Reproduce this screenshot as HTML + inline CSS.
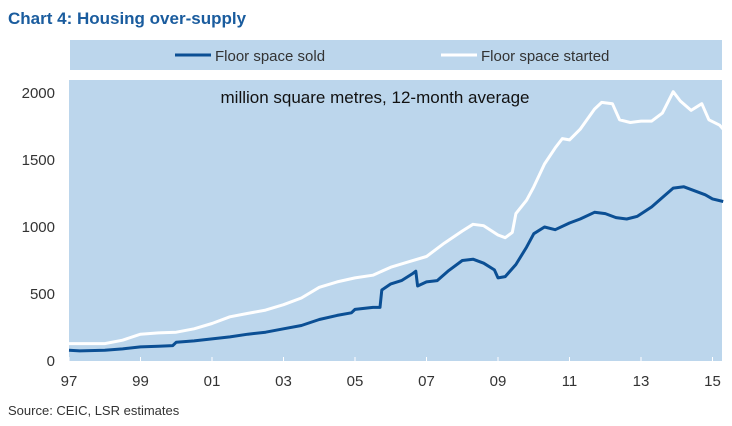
<!DOCTYPE html>
<html><head><meta charset="utf-8"><style>
body{margin:0;background:#fff;width:732px;height:421px;overflow:hidden;font-family:"Liberation Sans",sans-serif}
</style></head><body>
<svg width="732" height="421">
<text x="8" y="24" font-size="17" font-weight="bold" fill="#1a5c9e">Chart 4: Housing over-supply</text>
<rect x="70" y="40" width="652" height="30" fill="#bcd6ec"/>
<line x1="175" y1="55" x2="211" y2="55" stroke="#0b4f94" stroke-width="3"/>
<text x="215" y="61" font-size="15" fill="#333">Floor space sold</text>
<line x1="441" y1="55" x2="477" y2="55" stroke="#fff" stroke-width="3"/>
<text x="481" y="61" font-size="15" fill="#333">Floor space started</text>
<rect x="69" y="80" width="653" height="281" fill="#bcd6ec"/>
<text x="375" y="103" font-size="17" text-anchor="middle" fill="#111">million square metres, 12-month average</text>
<g id="ax"></g><g id="series"></g>
<text x="8" y="415" font-size="13" fill="#333">Source: CEIC, LSR estimates</text>
</svg>
<script>
const yTicks=[0,500,1000,1500,2000];
const xTickLabels=["97","99","01","03","05","07","09","11","13","15"];
const xTickYears=[1997,1999,2001,2003,2005,2007,2009,2011,2013,2015];
const soldYears=[1997,1997.3,1998,1998.5,1999,1999.5,1999.9,2000,2000.5,2001,2001.5,2002,2002.5,2003,2003.5,2004,2004.5,2004.9,2005,2005.5,2005.7,2005.75,2006,2006.3,2006.6,2006.7,2006.75,2007,2007.3,2007.6,2008,2008.3,2008.6,2008.9,2009,2009.2,2009.5,2009.8,2010,2010.3,2010.6,2011,2011.3,2011.7,2012,2012.3,2012.6,2012.9,2013.3,2013.6,2013.9,2014.2,2014.5,2014.8,2015,2015.3];
const soldValues=[80,75,80,90,105,110,115,140,150,165,180,200,215,240,265,310,340,360,385,400,400,530,575,600,650,670,560,590,600,670,750,760,730,680,620,630,720,850,950,1000,980,1030,1060,1110,1100,1070,1060,1080,1150,1220,1290,1300,1270,1240,1210,1190];
const startedYears=[1997,1998,1998.5,1999,1999.5,2000,2000.5,2001,2001.5,2002,2002.5,2003,2003.5,2004,2004.5,2005,2005.5,2006,2006.5,2007,2007.5,2008,2008.3,2008.6,2009,2009.2,2009.4,2009.5,2009.8,2010,2010.3,2010.6,2010.8,2011,2011.3,2011.7,2011.9,2012.2,2012.4,2012.7,2013,2013.3,2013.6,2013.9,2014.1,2014.4,2014.7,2014.9,2015.2,2015.3];
const startedValues=[130,130,155,200,210,215,240,280,330,355,380,420,470,550,590,620,640,700,740,780,880,970,1020,1010,940,920,960,1100,1200,1300,1470,1590,1660,1650,1730,1880,1930,1920,1800,1780,1790,1790,1850,2010,1940,1870,1920,1800,1760,1730];
const NS='http://www.w3.org/2000/svg';
const xs=y=>69+(y-1997)*35.75;
const ys=v=>361-v*0.134;
const ax=document.getElementById('ax');
yTicks.forEach(t=>{const e=document.createElementNS(NS,'text');e.setAttribute('x',55);e.setAttribute('y',ys(t)+5);e.setAttribute('font-size',15);e.setAttribute('text-anchor','end');e.setAttribute('fill','#333');e.textContent=t;


ax.appendChild(e);});
xTickLabels.forEach((l,i)=>{const x=xs(xTickYears[i]);const e=document.createElementNS(NS,'text');e.setAttribute('x',x);e.setAttribute('y',386);e.setAttribute('font-size',15);e.setAttribute('text-anchor','middle');e.setAttribute('fill','#333');e.textContent=l;


ax.appendChild(e);
const t=document.createElementNS(NS,'line');t.setAttribute('x1',x);t.setAttribute('x2',x);t.setAttribute('y1',357);t.setAttribute('y2',361);t.setAttribute('stroke','#fff');


ax.appendChild(t);});
const g=document.getElementById('series');
function line(xa,va,c,n){const p=document.createElementNS(NS,'polyline');p.setAttribute('points',xa.map((y,i)=>xs(y).toFixed(1)+','+ys(va[i]).toFixed(1)).join(' '));p.setAttribute('fill','none');p.setAttribute('stroke',c);p.setAttribute('stroke-width',3);p.setAttribute('stroke-linejoin','round');


g.appendChild(p);}
line(startedYears,startedValues,'#ffffff','started-line');
line(soldYears,soldValues,'#0b4f94','sold-line');
</script>
</body></html>
